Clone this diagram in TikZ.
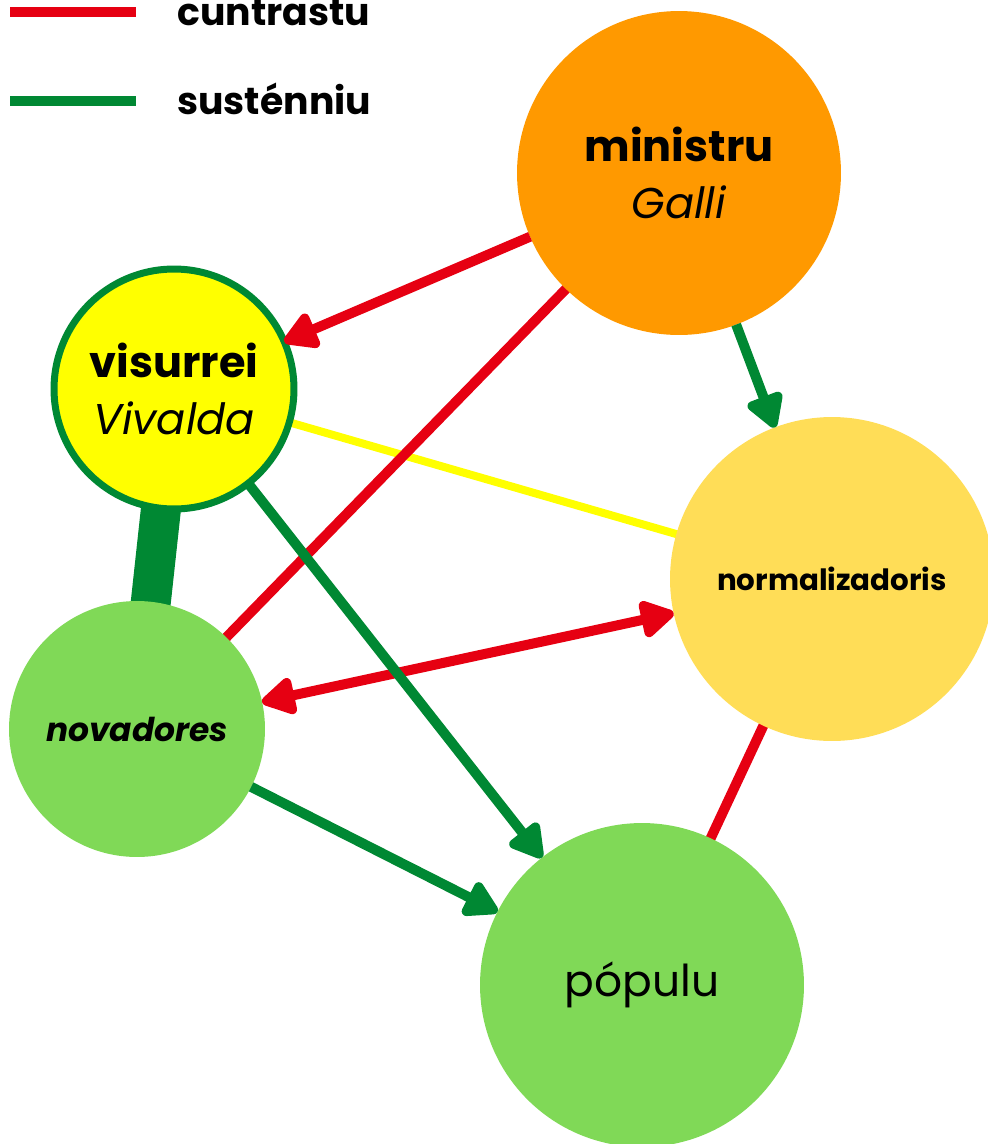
\documentclass[tikz,border=0pt]{standalone}
\usepackage{fontspec}
\setmainfont{Poppins}
\usetikzlibrary{arrows.meta,backgrounds}
\definecolor{cred}{RGB}{230,0,18}
\definecolor{cgreen}{RGB}{0,136,51}
\definecolor{corange}{RGB}{255,153,0}
\definecolor{cyellow}{RGB}{255,255,0}
\definecolor{cpale}{RGB}{255,221,87}
\definecolor{clight}{RGB}{128,217,87}

\begin{document}
\begin{tikzpicture}[x=0.02cm,y=-0.02cm,
  bubble/.style={circle,inner sep=0pt,outer sep=0pt,align=center},
  redline/.style={line width=0.2cm,draw=cred},
  greenline/.style={line width=0.2cm,draw=cgreen},
  head/.style={-{Triangle[length=0.76cm,width=0.82cm,round]}},
  bighead/.style={{Triangle[length=0.76cm,width=0.82cm,round]}-{Triangle[length=0.76cm,width=0.82cm,round]}}]
\useasboundingbox (0,0) rectangle (988,1144);

% legend
\coordinate (r1) at (10,12);
\coordinate (r2) at (136,12);
\coordinate (g1) at (10,101);
\coordinate (g2) at (136,101);
\draw[redline] (r1)--(r2);
\draw[greenline] (g1)--(g2);
\node[anchor=base west,inner sep=0pt,font=\fontsize{21.5}{26}\selectfont\bfseries] (cuntrastu) at (177,25) {cuntrastu};
\node[anchor=base west,inner sep=0pt,font=\fontsize{21.5}{26}\selectfont\bfseries] (sustenniu) at (177,114) {susténniu};

% bubbles
\node[bubble,fill=corange,minimum size=6.48cm,font=\fontsize{24.5}{32}\selectfont] (ministru) at (679,173) {\textbf{ministru}\\\textit{Galli}};
\node[bubble,fill=cyellow,draw=cgreen,line width=0.14cm,minimum size=4.8cm,font=\fontsize{24.5}{32}\selectfont] (visurrei) at (174,389) {\textbf{visurrei}\\\textit{Vivalda}};
\node[bubble,fill=cpale,minimum size=6.48cm,font=\fontsize{16.7}{20}\selectfont\bfseries] (normalizadoris) at (832,579) {normalizadoris};
\node[bubble,fill=clight,minimum size=5.12cm,font=\fontsize{18.7}{22}\selectfont\bfseries\itshape] (novadores) at (137,729) {novadores};
\node[bubble,fill=clight,minimum size=6.48cm,font=\fontsize{25}{30}\selectfont] (populu) at (642,985) {pópulu};

\begin{pgfonlayer}{background}
\draw[draw=cyellow,line width=0.16cm] (visurrei.center)--(normalizadoris.center);
\draw[redline] (ministru.center)--(novadores.center);
\draw[redline] (populu.center)--(normalizadoris.center);
\draw[draw=cgreen,line width=0.8cm] (visurrei.center)--(novadores.center);
\end{pgfonlayer}

% arrows
\draw[redline,head] (ministru)--(visurrei);
\draw[redline,bighead] (normalizadoris)--(novadores);
\draw[greenline,head] (ministru)--(normalizadoris);
\draw[greenline,head] (visurrei)--(populu);
\draw[greenline,head] (novadores)--(populu);

\end{tikzpicture}
\end{document}
